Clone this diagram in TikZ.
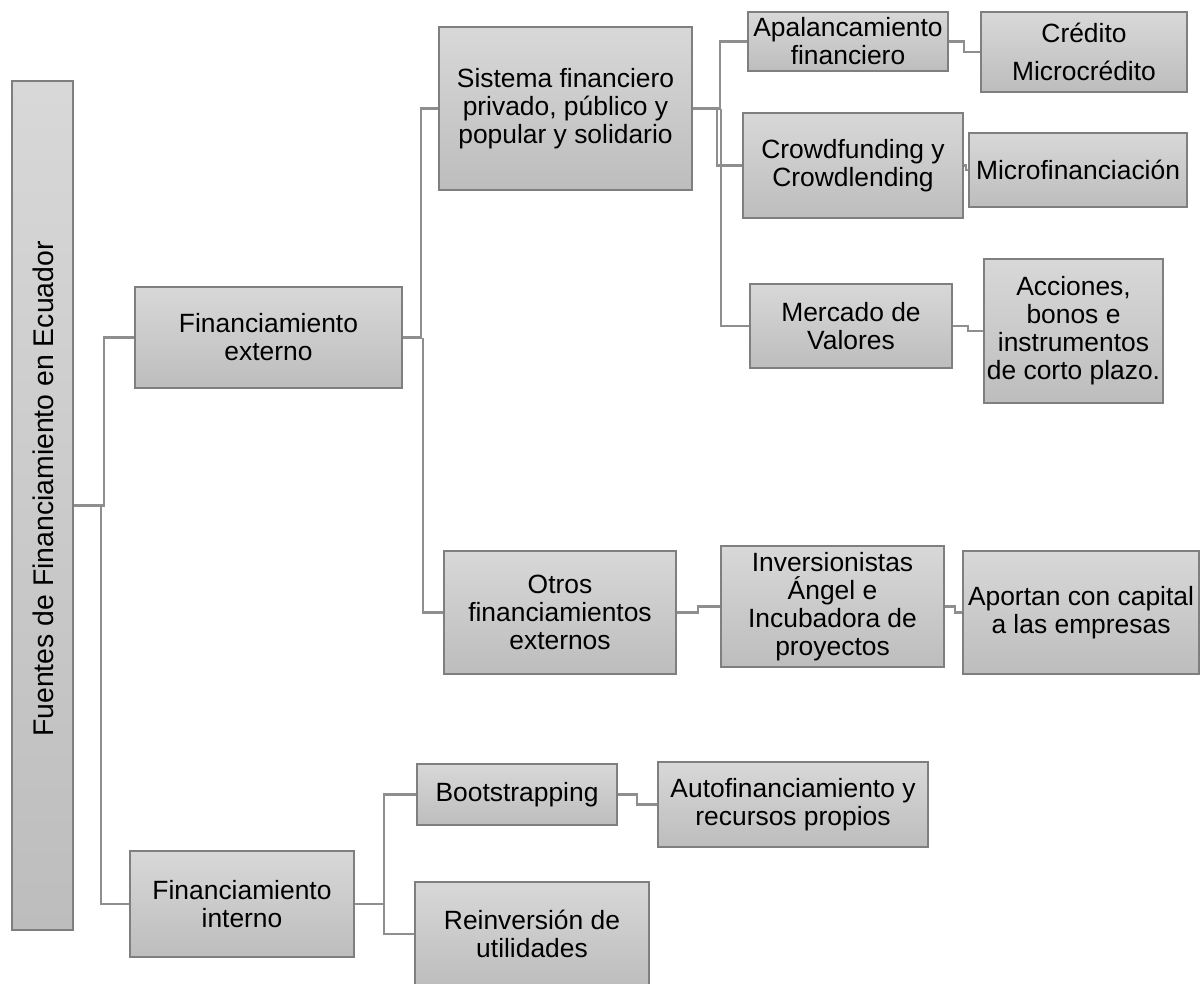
\documentclass[tikz,border=0pt]{standalone}
\usepackage{fontspec}
\setmainfont{Liberation Sans}
\definecolor{boxtop}{HTML}{D8D8D8}
\definecolor{boxbot}{HTML}{BDBDBD}
\definecolor{boxline}{HTML}{7F7F7F}
\definecolor{connc}{HTML}{8E8E8E}
\tikzset{
  box/.style={draw=boxline, line width=1.1pt, top color=boxtop, bottom color=boxbot,
    align=center, inner sep=0pt, font=\fontsize{19.8}{21}\selectfont},
  conn/.style={draw=connc, line width=1.8pt},
}
\newcommand\mkbox[6]{\node[box, minimum width={(#4-#2)*0.75pt}, minimum height={(#5-#3)*0.75pt}] (#1) at ({(#2+#4)/2},{(#3+#5)/2}) {#6};}
\begin{document}
\begin{tikzpicture}[x=0.75pt,y=-0.75pt]
\useasboundingbox (0,0) rectangle (1200,983);
% boxes
\mkbox{root}{12}{81}{73}{930}{}
\node[rotate=90, font=\fontsize{21.3}{22}\selectfont] (roottext) at (43,489) {Fuentes de Financiamiento en Ecuador};
\mkbox{ext}{135}{287}{402}{388}{Financiamiento\\externo}
\mkbox{int}{130}{851}{354}{957}{Financiamiento\\interno}
\mkbox{sis}{439}{27}{692}{190}{Sistema financiero\\privado, público y\\popular y solidario}
\mkbox{otr}{444}{551}{676}{674}{Otros\\financiamientos\\externos}
\mkbox{apa}{748}{12}{948}{71}{Apalancamiento\\financiero}
\mkbox{cro}{743}{113}{963}{218}{Crowdfunding y\\Crowdlending}
\mkbox{mer}{750}{284}{952}{368}{Mercado de\\Valores}
\mkbox{cre}{981}{12}{1187}{92}{Crédito\\[7pt]Microcrédito}
\mkbox{mic}{969}{133}{1187}{207}{Microfinanciación}
\mkbox{acc}{984}{259}{1163}{403}{Acciones,\\bonos e\\instrumentos\\de corto plazo.}
\mkbox{inv}{721}{546}{944}{667}{Inversionistas\\Ángel e\\Incubadora de\\proyectos}
\mkbox{apo}{963}{551}{1199}{674}{Aportan con capital\\a las empresas}
\mkbox{boo}{417}{764}{617}{825}{Bootstrapping}
\mkbox{aut}{658}{762}{928}{847}{Autofinanciamiento y\\recursos propios}
\mkbox{rei}{415}{882}{649}{986}{Reinversión de\\utilidades}
% connectors
\draw[conn] (root.east) -- (104,505.5) |- (ext.west);
\draw[conn] (101,505.5) |- (int.west);
\draw[conn] (ext.east) -- (421,337.5) |- (sis.west);
\draw[conn] (423,337.5) |- (otr.west);
\draw[conn] (sis.east) -- (720,108.5) |- (apa.west);
\draw[conn] (717,108.5) |- (cro.west);
\draw[conn] (721,108.5) |- (mer.west);
\draw[conn] (apa.east) -- (964,41.5) |- (cre.west);
\draw[conn] (cro.east) -- (966,165.5) |- (mic.west);
\draw[conn] (mer.east) -- (968,326) |- (acc.west);
\draw[conn] (otr.east) -- (698,612.5) |- (inv.west);
\draw[conn] (inv.east) -- (955,606.5) |- (apo.west);
\draw[conn] (int.east) -- (384,904) |- (boo.west);
\draw[conn] (384,904) |- (rei.west);
\draw[conn] (boo.east) -- (637,794.5) |- (aut.west);
\end{tikzpicture}
\end{document}
